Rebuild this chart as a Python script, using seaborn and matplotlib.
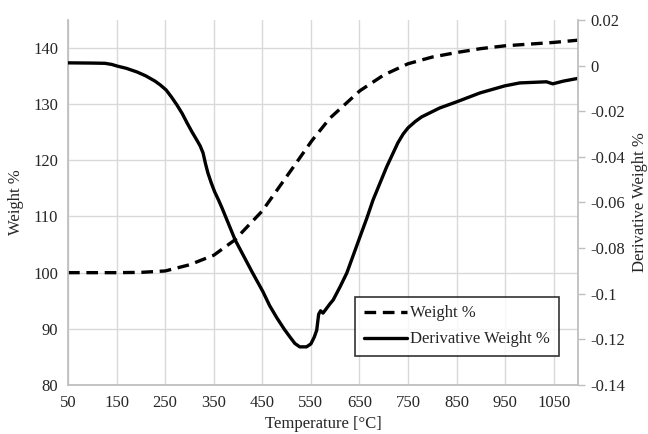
import numpy as np
import pandas as pd
import matplotlib.pyplot as plt
import seaborn as sns

# values
temp_w = [50, 100, 150, 200, 250, 300, 350, 393, 450, 513, 552, 589, 651, 700,
          750, 800, 850, 900, 950, 1000, 1050, 1100]
weight = [100, 100, 100, 100.05, 100.3, 101.4, 103.1, 105.8, 111.0, 118.7, 123.5,
          127.5, 132.4, 135.2, 137.2, 138.4, 139.2, 139.9, 140.4, 140.7, 141.0, 141.4]

temp_d = [50, 100, 126, 140, 151, 170, 192, 210, 229, 240, 252, 263, 274, 285,
          295, 305, 315, 322, 328, 333, 338, 345, 352, 360, 367, 394, 429, 451,
          465, 480, 495, 507, 517, 527, 541, 550, 557, 562, 566, 570, 575, 589,
          596, 610, 624, 651, 665, 678, 706, 729, 740, 750, 765, 778, 815, 850,
          898, 949, 980, 1035, 1048, 1070, 1100]
deriv = [0.0012, 0.0011, 0.001, 0.0005, -0.0002, -0.0012, -0.0028, -0.0045,
         -0.0068, -0.0085, -0.0107, -0.0138, -0.0172, -0.021, -0.0251, -0.029,
         -0.0326, -0.0352, -0.0383, -0.043, -0.0471, -0.0515, -0.0554, -0.059,
         -0.0624, -0.0764, -0.0905, -0.099, -0.1052, -0.1106, -0.1155, -0.119,
         -0.1218, -0.1233, -0.1233, -0.122, -0.119, -0.116, -0.109, -0.1075,
         -0.1085, -0.1045, -0.1027, -0.097, -0.0909, -0.0751, -0.067, -0.0589,
         -0.0444, -0.0339, -0.030, -0.0273, -0.0245, -0.0225, -0.0186, -0.0159,
         -0.0120, -0.0089, -0.0076, -0.0071, -0.008, -0.0068, -0.0056]

x_ticks = [50, 150, 250, 350, 450, 550, 650, 750, 850, 950, 1050]

sns.set_style('white')
plt.rcParams['font.family'] = ['Liberation Serif', 'DejaVu Serif']
plt.rcParams['font.size'] = 12

fig = plt.figure(figsize=(6.48, 4.34), dpi=100)
ax = fig.add_axes([0.105, 0.113, 0.787, 0.841])
ax2 = ax.twinx()

sns.lineplot(x=temp_w, y=weight, ax=ax, color='black', linewidth=2.4,
             linestyle=(0, (3.5, 2)), label='Weight %', legend=False)
sns.lineplot(x=temp_d, y=deriv, ax=ax2, color='black', linewidth=2.4,
             label='Derivative Weight %', legend=False)

ax.set_xlim(50, 1100)
ax.set_ylim(80, 145)
ax.set_xticks(x_ticks)
ax.set_yticks(range(80, 141, 10))
ax2.set_ylim(-0.14, 0.02)
ax2.set_yticks(np.arange(-0.14, 0.021, 0.02))
ax2.set_yticklabels([f"{v:g}" if abs(v) > 1e-9 else "0"
                     for v in np.round(np.arange(-0.14, 0.021, 0.02), 2)])

ax.grid(True, color='#d9d9d9', linewidth=1)
ax.set_axisbelow(True)
ax2.grid(False)

for a in (ax, ax2):
    a.spines['top'].set_visible(False)
    for s in ('left', 'bottom', 'right'):
        a.spines[s].set_color('#bfbfbf')
        a.spines[s].set_linewidth(1.3)
ax.spines['right'].set_visible(False)
ax2.spines['left'].set_visible(False)
ax2.spines['bottom'].set_visible(False)

ax.tick_params(axis='both', length=0, pad=7, labelsize=12)
ax2.tick_params(axis='y', length=5, color='#bfbfbf', width=1, pad=4, labelsize=12)

ax.set_xlabel('Temperature [°C]', fontsize=12, labelpad=4)
ax.set_ylabel('Weight %', fontsize=12, labelpad=7)
ax2.set_ylabel('Derivative Weight %', fontsize=12, labelpad=5)

handles = [ax.lines[0], ax2.lines[0]]
leg = ax2.legend(handles=handles, labels=['Weight %', 'Derivative Weight %'],
                 loc='lower right', bbox_to_anchor=(0.962, 0.08),
                 frameon=True, fancybox=False, edgecolor='black',
                 handlelength=2.6, handletextpad=0.2, borderpad=0.5,
                 borderaxespad=0, labelspacing=0.6, fontsize=12)
leg.get_frame().set_linewidth(1.2)

fig.savefig('out.png', dpi=100)
